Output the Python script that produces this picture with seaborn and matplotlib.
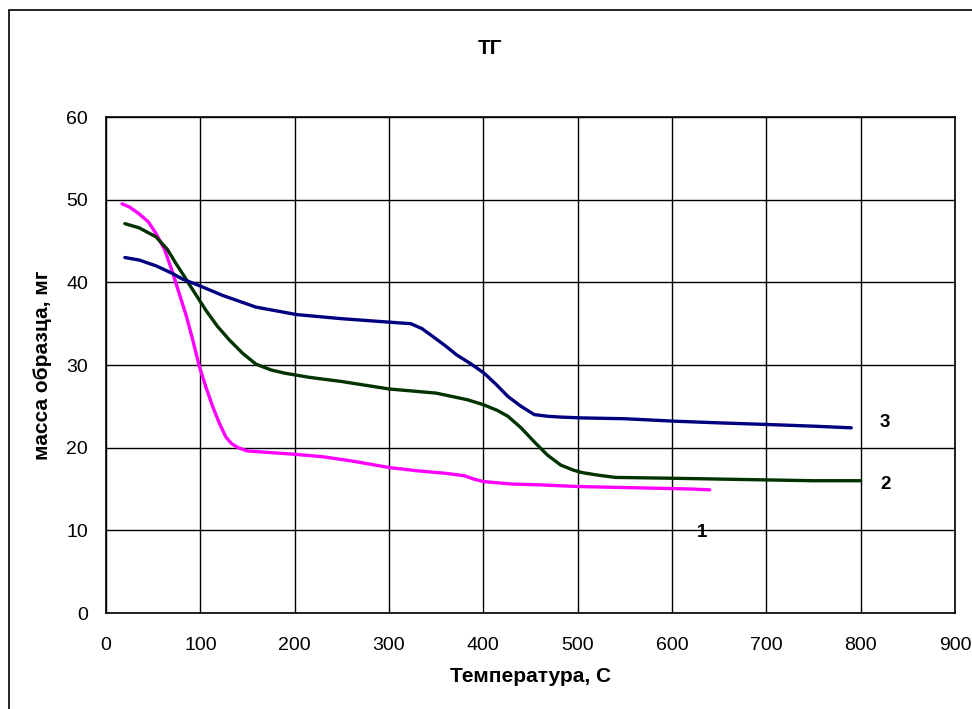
import matplotlib
matplotlib.use("Agg")
import matplotlib.pyplot as plt
from matplotlib.patches import Rectangle
import seaborn as sns

# Sample 1
temp_1 = [17, 25, 35, 45, 53, 62, 70, 78, 85, 92, 99, 106, 113, 120, 127, 133, 140,
          150, 175, 200, 230, 260, 280, 300, 330, 360, 380, 390, 400, 430, 460, 500,
          540, 580, 620, 640]
mass_1 = [49.5, 49.1, 48.3, 47.3, 45.9, 44.0, 41.4, 38.5, 36.0, 33.0, 29.8, 27.3, 25.0,
          23.0, 21.3, 20.5, 20.0, 19.6, 19.4, 19.2, 18.9, 18.4, 18.0, 17.6, 17.2, 16.9,
          16.6, 16.2, 15.9, 15.6, 15.5, 15.3, 15.2, 15.1, 15.0, 14.9]

# Sample 2
temp_2 = [20, 35, 53, 65, 74, 82, 88, 97, 106, 118, 131, 145, 159, 175, 190, 216, 250,
          300, 350, 383, 400, 415, 426, 440, 454, 468, 482, 495, 504, 520, 540, 600,
          650, 700, 750, 800]
mass_2 = [47.1, 46.6, 45.5, 44.0, 42.3, 40.9, 39.8, 38.2, 36.6, 34.7, 33.0, 31.4, 30.1,
          29.4, 29.0, 28.5, 28.0, 27.1, 26.6, 25.8, 25.2, 24.5, 23.8, 22.4, 20.7, 19.1,
          17.9, 17.3, 17.0, 16.7, 16.4, 16.3, 16.2, 16.1, 16.0, 16.0]

# Sample 3
temp_3 = [20, 35, 53, 70, 81, 99, 124, 159, 202, 250, 298, 323, 335, 347, 360, 372,
          386, 401, 414, 426, 440, 454, 468, 482, 504, 550, 603, 650, 702, 750, 790]
mass_3 = [43.0, 42.7, 42.0, 41.1, 40.4, 39.6, 38.4, 37.0, 36.1, 35.6, 35.2, 35.0, 34.4,
          33.4, 32.3, 31.2, 30.2, 29.0, 27.6, 26.2, 25.0, 24.0, 23.8, 23.7, 23.6, 23.5,
          23.2, 23.0, 22.8, 22.6, 22.4]

series_labels = ["1", "2", "3"]
label_pos_x = [632, 826, 826]
label_pos_y = [9.7, 15.5, 23.0]
colors = ["#FF00FF", "#003300", "#000080"]

x_ticks = list(range(0, 901, 100))
y_ticks = list(range(0, 61, 10))

sns.set_style("white")
plt.rcParams["font.family"] = ["Liberation Sans", "DejaVu Sans"]
plt.rcParams["text.color"] = "black"
plt.rcParams["axes.labelcolor"] = "black"
plt.rcParams["xtick.color"] = "black"
plt.rcParams["ytick.color"] = "black"

W, H = 972, 709
fig = plt.figure(figsize=(W / 100, H / 100), dpi=100)
ax = fig.add_axes([106 / W, 1 - 613 / H, (955 - 106) / W, (613 - 117) / H])

for t, m, c in zip([temp_1, temp_2, temp_3], [mass_1, mass_2, mass_3], colors):
    sns.lineplot(x=t, y=m, color=c, linewidth=2.4, ax=ax, zorder=3)

for lab, lx, ly in zip(series_labels, label_pos_x, label_pos_y):
    ax.text(lx, ly, lab, fontsize=13.5, fontweight="bold", ha="center", va="center")

ax.set_xlim(0, 900)
ax.set_ylim(0, 60)
ax.set_xticks(x_ticks)
ax.set_yticks(y_ticks)
ax.grid(True, color="black", linewidth=1.0)
for s in ax.spines.values():
    s.set_color("black")
    s.set_linewidth(1.2)
ax.tick_params(axis="both", direction="out", length=6, width=1, labelsize=14)
ax.tick_params(axis="x", pad=11)
ax.tick_params(axis="y", pad=7)
ax.set_xlabel("Температура, С", fontsize=15, fontweight="bold")
ax.set_ylabel("масса образца, мг", fontsize=15, fontweight="bold")
ax.xaxis.set_label_coords(0.5, (613 - 677) / (613 - 117))
ax.yaxis.set_label_coords((42 - 106) / (955 - 106), 0.5)
ax.xaxis.label.set_va("center")
ax.yaxis.label.set_va("center")

fig.text(490 / W, 1 - 48 / H, "ТГ", fontsize=15, fontweight="bold",
         ha="center", va="center")

# Chart-area frame
fig.patches.append(Rectangle((9 / W, -0.05), 1.1, 0.05 + 1 - 10 / H,
                             transform=fig.transFigure, fill=False,
                             edgecolor="black", linewidth=1.2))

fig.savefig("out.png", dpi=100)
